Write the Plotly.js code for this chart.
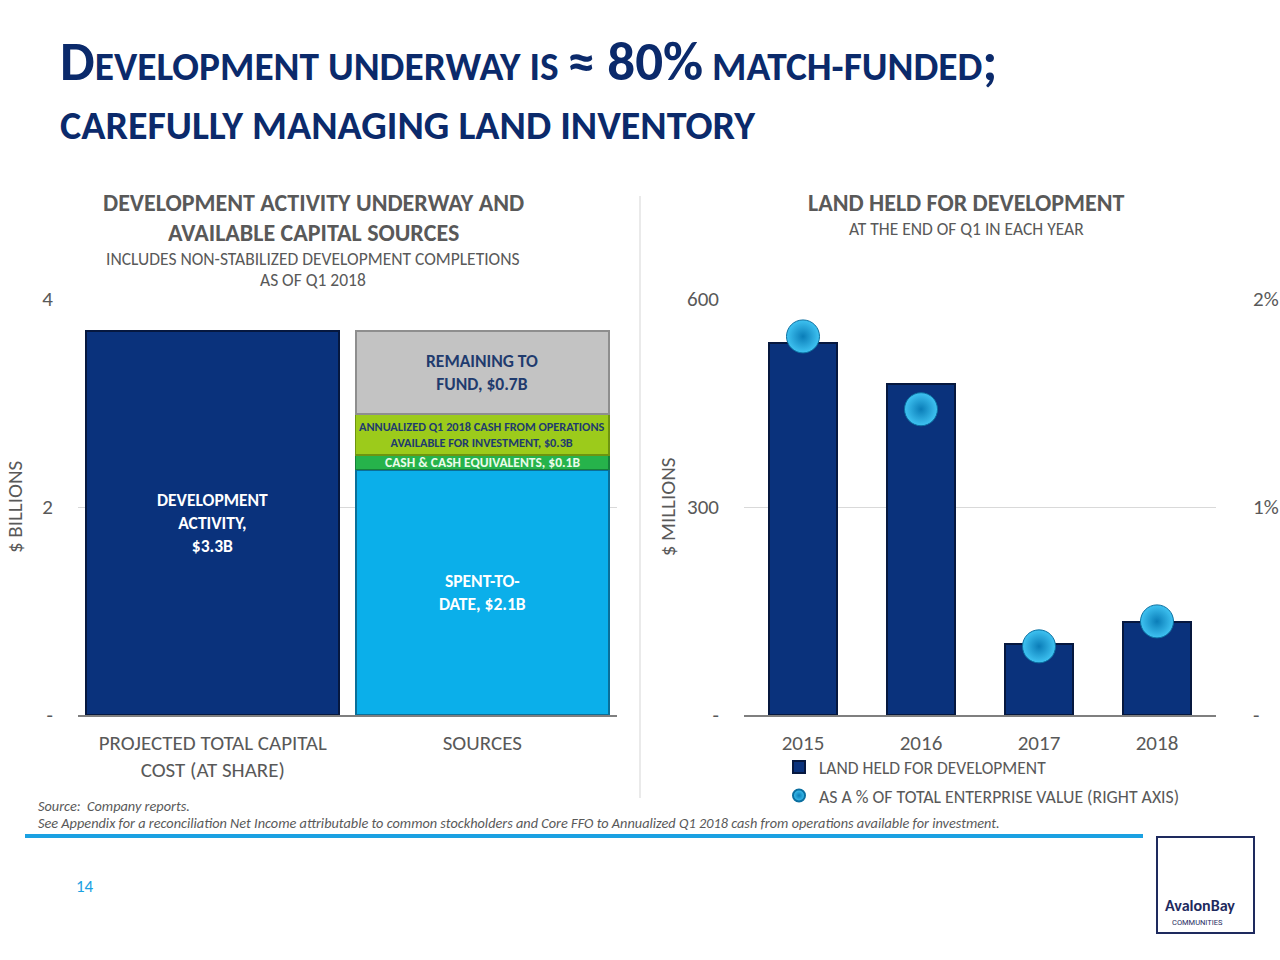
<!DOCTYPE html>
<html>
<head>
<meta charset="utf-8">
<script src="https://cdn.plot.ly/plotly-3.0.1.min.js"></script>
<style>html,body{margin:0;padding:0;background:#fff;}#chart{width:1280px;height:960px;}</style>
</head>
<body>
<div id="chart"></div>
<script>
// ---------- DATA ----------
var leftCategories = ['PROJECTED TOTAL CAPITAL<br>COST (AT SHARE)', 'SOURCES'];
var developmentActivity = [3.69];          // $ billions (bar as drawn)
var spentToDate = [2.36];
var cashEquivalents = [0.14];
var annualizedCash = [0.39];
var remainingToFund = [0.80];

var devLabel = 'DEVELOPMENT<br>ACTIVITY,<br>$3.3B';
var spentLabel = 'SPENT-TO-<br>DATE, $2.1B';
var cashLabel = 'CASH &amp; CASH EQUIVALENTS, $0.1B';
var annualLabel = 'ANNUALIZED Q1 2018 CASH FROM OPERATIONS<br>AVAILABLE FOR INVESTMENT, $0.3B';
var remainLabel = 'REMAINING TO<br>FUND, $0.7B';

var years = ['2015', '2016', '2017', '2018'];
var landHeld = [537, 477, 102, 134];                 // $ millions
var pctOfEnterpriseValue = [1.82, 1.47, 0.33, 0.45]; // % (right axis)

var leftTickVals = [0, 2, 4], leftTickText = ['-', '2', '4'];
var rightTickVals = [0, 300, 600], rightTickText = ['-', '300', '600'];
var pctTickVals = [0, 1, 2], pctTickText = ['-', '1%', '2%'];

// ---------- STYLE ----------
var FONT = 'Carlito, Lato, "Open Sans", sans-serif';
var GRAY = '#595959';
var NAVY = '#0B2A6B';
var BAR_NAVY = '#0A327C';

var traces = [
  {type:'bar', x:[leftCategories[0]], y:developmentActivity, xaxis:'x', yaxis:'y', width:0.94,
   marker:{color:BAR_NAVY, line:{color:'#06183F', width:2}}, showlegend:false},
  {type:'bar', x:[leftCategories[1]], y:spentToDate, xaxis:'x', yaxis:'y', width:0.94,
   marker:{color:'#0BAFEA', line:{color:'#0A6F99', width:2}}, showlegend:false},
  {type:'bar', x:[leftCategories[1]], y:cashEquivalents, xaxis:'x', yaxis:'y', width:0.94,
   marker:{color:'#26B34B', line:{color:'#16803A', width:1.5}}, showlegend:false},
  {type:'bar', x:[leftCategories[1]], y:annualizedCash, xaxis:'x', yaxis:'y', width:0.94,
   marker:{color:'#9CCB1B', line:{color:'#6E9410', width:1.5}}, showlegend:false},
  {type:'bar', x:[leftCategories[1]], y:remainingToFund, xaxis:'x', yaxis:'y', width:0.94,
   marker:{color:'#C3C3C3', line:{color:'#8E8E8E', width:2}}, showlegend:false},
  {type:'bar', name:'LAND HELD FOR DEVELOPMENT', x:years, y:landHeld, xaxis:'x2', yaxis:'y2', width:0.57,
   marker:{color:BAR_NAVY, line:{color:'#06183F', width:2}}, legend:'legend'},
  {type:'scatter', mode:'markers', name:'AS A % OF TOTAL ENTERPRISE VALUE (RIGHT AXIS)', x:years, y:pctOfEnterpriseValue,
   xaxis:'x2', yaxis:'y3', legend:'legend2',
   marker:{size:33, color:'#3FC3F2', gradient:{type:'radial', color:'#0A7DB8'}, line:{color:'#0B6FA0', width:1}}}
];

// label positions computed from stacked data
var s0 = spentToDate[0], s1 = s0 + cashEquivalents[0], s2 = s1 + annualizedCash[0], s3 = s2 + remainingToFund[0];

function ann(text, x, y, xref, yref, size, color, opts) {
  var a = {text:text, x:x, y:y, xref:xref, yref:yref, showarrow:false, xanchor:'center', yanchor:'middle',
           font:{family:FONT, size:size, color:color}};
  for (var k in opts) a[k] = opts[k];
  return a;
}
function px(x) { return x/1280; }
function py(y) { return 1 - y/960; }

var annotations = [
  // bar labels
  ann('<b>'+devLabel+'</b>', leftCategories[0], developmentActivity[0]/2, 'x', 'y', 17.5, '#FFFFFF', {}),
  ann('<b>'+spentLabel+'</b>', leftCategories[1], s0/2, 'x', 'y', 17.5, '#FFFFFF', {}),
  ann('<b>'+cashLabel+'</b>', leftCategories[1], (s0+s1)/2, 'x', 'y', 13.5, '#EAFBEA', {}),
  ann('<b>'+annualLabel+'</b>', leftCategories[1], (s1+s2)/2, 'x', 'y', 12.3, '#1F3B6E', {}),
  ann('<b>'+remainLabel+'</b>', leftCategories[1], (s2+s3)/2, 'x', 'y', 17.5, '#1F3B6E', {}),
  // main title
  ann('<b><span style="font-size:55px">D</span>EVELOPMENT UNDERWAY IS <span style="font-size:55px">≈ 80%</span> MATCH-FUNDED<span style="font-size:55px">;</span></b>',
      px(58), py(62), 'paper', 'paper', 39.4, NAVY, {xanchor:'left'}),
  ann('<b>CAREFULLY MANAGING LAND INVENTORY</b>', px(58), py(125), 'paper', 'paper', 40, NAVY, {xanchor:'left'}),
  // left chart titles
  ann('<b>DEVELOPMENT ACTIVITY UNDERWAY AND</b>', px(313), py(203), 'paper', 'paper', 24, GRAY, {}),
  ann('<b>AVAILABLE CAPITAL SOURCES</b>', px(313), py(233), 'paper', 'paper', 24, GRAY, {}),
  ann('INCLUDES NON-STABILIZED DEVELOPMENT COMPLETIONS', px(313), py(259), 'paper', 'paper', 17.5, GRAY, {}),
  ann('AS OF Q1 2018', px(313), py(280), 'paper', 'paper', 17.5, GRAY, {}),
  // right chart titles
  ann('<b>LAND HELD FOR DEVELOPMENT</b>', px(966), py(203), 'paper', 'paper', 24, GRAY, {}),
  ann('AT THE END OF Q1 IN EACH YEAR', px(966), py(229), 'paper', 'paper', 17.5, GRAY, {}),
  // footer
  ann('<i>Source:  Company reports.</i>', px(36), py(806), 'paper', 'paper', 14.3, GRAY, {xanchor:'left'}),
  ann('<i>See Appendix for a reconciliation Net Income attributable to common stockholders and Core FFO to Annualized Q1 2018 cash from operations available for investment.</i>',
      px(36), py(823), 'paper', 'paper', 14.3, GRAY, {xanchor:'left'}),
  ann('14', px(85), py(886), 'paper', 'paper', 17, '#1BA1E2', {}),
  ann('<b>AvalonBay</b>', px(1200), py(905), 'paper', 'paper', 16, '#1E2A5E', {}),
  ann('COMMUNITIES', px(1197), py(922), 'paper', 'paper', 7.5, '#1E2A5E', {font:{family:'Roboto, sans-serif', size:7.5, color:'#1E2A5E'}})
];

var shapes = [
  {type:'line', xref:'paper', yref:'paper', x0:px(640), x1:px(640), y0:py(196), y1:py(798), line:{color:'#E3E3E3', width:1.5}},
  {type:'line', xref:'paper', yref:'paper', x0:px(25), x1:px(1143), y0:py(836), y1:py(836), line:{color:'#1BA1E2', width:4}},
  {type:'rect', xref:'paper', yref:'paper', x0:px(1157), x1:px(1254), y0:py(837), y1:py(933), line:{color:'#1E2A5E', width:2}}
];

var axisFont = {family:FONT, size:21, color:GRAY};
var yDomain = [py(715), py(299)];

var layout = {
  width:1280, height:960, margin:{l:0, r:0, t:0, b:0},
  paper_bgcolor:'#FFFFFF', plot_bgcolor:'#FFFFFF',
  font:{family:FONT, color:GRAY},
  barmode:'stack', bargap:0,
  xaxis:{domain:[px(78), px(617)], type:'category', categoryorder:'array', categoryarray:leftCategories,
         tickfont:axisFont, showline:true, linecolor:'#7F7F7F', linewidth:1.5, ticks:'', showgrid:false,
         anchor:'y', ticklabelstandoff:8},
  yaxis:{domain:yDomain, range:[0,4], tickvals:leftTickVals, ticktext:leftTickText, tickfont:axisFont,
         gridcolor:'#D9D9D9', gridwidth:1, zeroline:false, showline:false, ticks:'', anchor:'x',
         ticklabelstandoff:24, title:{text:'$ BILLIONS', font:axisFont, standoff:13}},
  xaxis2:{domain:[px(744), px(1216)], type:'category', categoryorder:'array', categoryarray:years,
          tickfont:axisFont, showline:true, linecolor:'#7F7F7F', linewidth:1.5, ticks:'', showgrid:false,
          anchor:'y2', ticklabelstandoff:8},
  yaxis2:{domain:yDomain, range:[0,600], tickvals:rightTickVals, ticktext:rightTickText, tickfont:axisFont,
          gridcolor:'#D9D9D9', gridwidth:1, zeroline:false, showline:false, ticks:'', anchor:'x2',
          ticklabelstandoff:24, title:{text:'$ MILLIONS', font:axisFont, standoff:5}},
  yaxis3:{domain:yDomain, range:[0,2], tickvals:pctTickVals, ticktext:pctTickText, tickfont:axisFont,
          overlaying:'y2', side:'right', anchor:'x2', showgrid:false, zeroline:false, showline:false, ticks:'',
          ticklabelstandoff:36},
  legend:{x:px(779), y:py(767), xanchor:'left', yanchor:'middle', bgcolor:'rgba(0,0,0,0)',
          font:{family:FONT, size:17.5, color:GRAY}},
  legend2:{x:px(779), y:py(796), xanchor:'left', yanchor:'middle', bgcolor:'rgba(0,0,0,0)',
           font:{family:FONT, size:17.8, color:GRAY}, itemsizing:'constant'},
  annotations:annotations, shapes:shapes
};

Plotly.newPlot('chart', traces, layout, {staticPlot:true, displayModeBar:false});
</script>
</body>
</html>
